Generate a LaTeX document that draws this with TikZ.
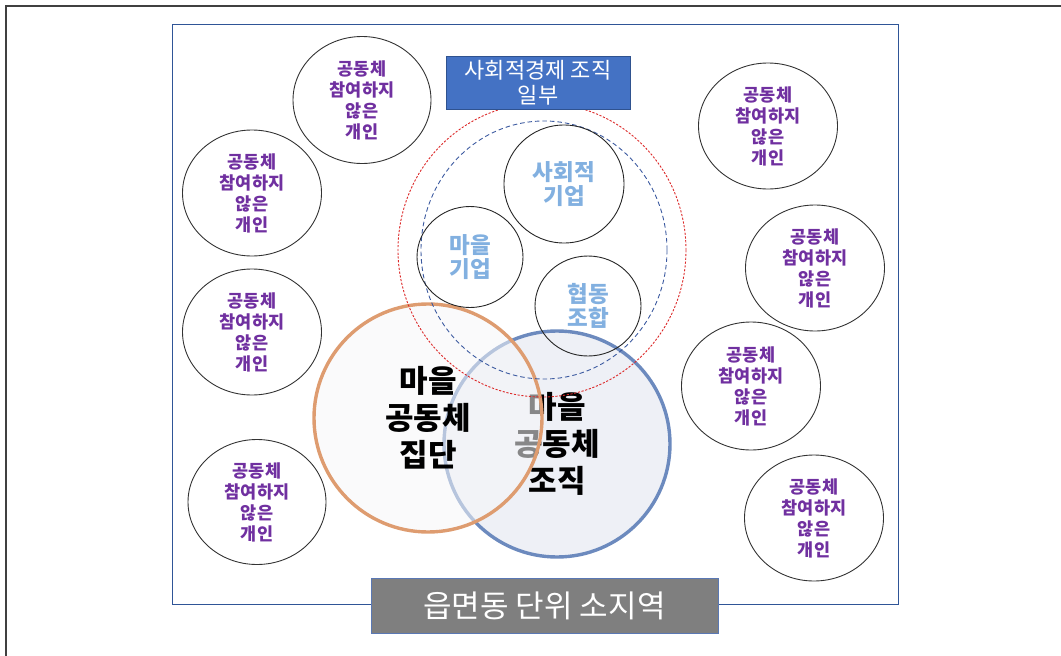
\documentclass[tikz,border=0pt]{standalone}
\usepackage{fontspec}
\setmainfont{Noto Sans CJK KR}
\usetikzlibrary{shapes.geometric}
\definecolor{regionblue}{RGB}{47,85,151}
\definecolor{boxblue}{RGB}{68,114,196}
\definecolor{boxedge}{RGB}{47,82,143}
\definecolor{labelgray}{RGB}{127,127,127}
\definecolor{labeledge}{RGB}{90,120,180}
\definecolor{purpleT}{RGB}{112,48,160}
\definecolor{lightT}{RGB}{130,176,224}
\definecolor{orangeE}{RGB}{222,156,112}
\definecolor{orgE}{RGB}{108,138,190}
\definecolor{orgF}{RGB}{238,240,246}
\definecolor{grpF}{RGB}{246,246,248}
\definecolor{redD}{RGB}{220,40,40}
\definecolor{blueD}{RGB}{60,90,160}
\begin{document}
\begin{tikzpicture}[x=1pt,y=-1pt,
  person/.style={ellipse, draw=black!80, line width=0.9pt, minimum width=139pt,
    minimum height=126pt, inner sep=0pt, align=center, text=purpleT,
    font=\bfseries\fontsize{17.5}{21}\selectfont},
  econ/.style={ellipse, draw=black!85, line width=0.9pt, inner sep=0pt, align=center,
    text=lightT, font=\bfseries\fontsize{22.5}{24.5}\selectfont},
  bigtext/.style={font=\bfseries\fontsize{31}{37}\selectfont, align=center, text=black},
  ring/.style={ellipse, inner sep=0pt, line width=0.9pt}
]
\useasboundingbox (0,0) rectangle (1061,656);
% outer frame
\draw[line width=2.2pt, black!75] (6,660) -- (6,6) -- (1065,6);
% region
\node[draw=regionblue, line width=0.8pt, minimum width=726pt, minimum height=580pt, inner sep=0pt] (region) at (535,314) {};
% community organisation (below)
\node[circle, draw=orgE, line width=3.4pt, fill=orgF, minimum size=226pt, inner sep=0pt, bigtext] (org) at (557,444) {마을\\공동체\\조직};
% community group (above, semi-transparent)
\node[circle, draw=orangeE, line width=3.4pt, fill=grpF, fill opacity=0.55, draw opacity=1, text opacity=1, minimum size=228pt, inner sep=0pt, bigtext] (grp) at (428,418) {마을\\공동체\\집단};
% dashed rings
\node[ring, draw=redD, dash pattern=on 2.2pt off 1.6pt, minimum width=288pt, minimum height=294pt] (socring) at (542,250) {};
\node[ring, draw=blueD, dash pattern=on 4.5pt off 3pt, minimum width=246pt, minimum height=258pt] (entring) at (544,250) {};
% social economy organisations
\node[econ, minimum width=120pt, minimum height=118pt] (se) at (564,184) {사회적\\기업};
\node[econ, minimum width=106pt, minimum height=101pt] (ve) at (470,257) {마을\\기업};
\node[econ, minimum width=106pt, minimum height=100pt] (coop) at (588,306) {협동\\조합};
% individuals
\node[person, minimum height=127pt, minimum width=138pt] (p1) at (362,100) {공동체\\참여하지\\않은\\개인};
\node[person] (p2) at (252,193) {공동체\\참여하지\\않은\\개인};
\node[person] (p3) at (252,332) {공동체\\참여하지\\않은\\개인};
\node[person, minimum width=138pt, minimum height=125pt] (p4) at (257,502) {공동체\\참여하지\\않은\\개인};
\node[person] (p5) at (768,126) {공동체\\참여하지\\않은\\개인};
\node[person] (p6) at (815,268) {공동체\\참여하지\\않은\\개인};
\node[person, minimum height=128pt] (p7) at (751,386) {공동체\\참여하지\\않은\\개인};
\node[person] (p8) at (814,518) {공동체\\참여하지\\않은\\개인};
% labels
\node[draw=boxedge, line width=0.8pt, fill=boxblue, text=white, minimum width=184pt, minimum height=53pt, inner sep=0pt, align=center, font=\fontsize{22}{25}\selectfont] (toplabel) at (538,82.5) {사회적경제 조직\\일부};
\node[draw=labeledge, line width=0.8pt, fill=labelgray, text=white, minimum width=347pt, minimum height=55pt, inner sep=0pt, font=\fontsize{31}{34}\selectfont] (bottomlabel) at (544.5,605.5) {읍면동 단위 소지역};
\end{tikzpicture}
\end{document}
